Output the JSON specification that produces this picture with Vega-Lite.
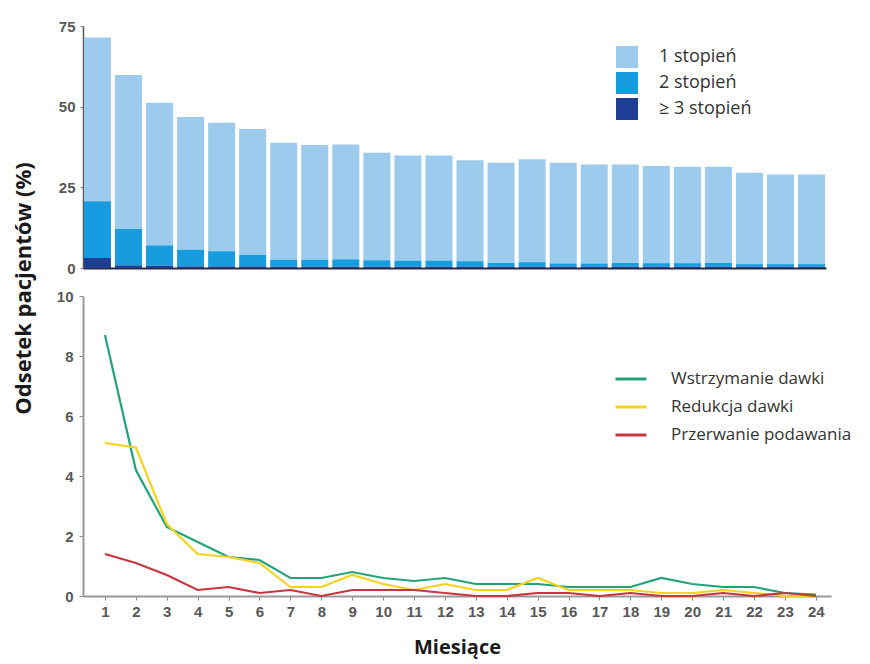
{
  "$schema": "https://vega.github.io/schema/vega-lite/v6.json",
  "padding": {"left": 12, "top": 19, "right": 5, "bottom": 5},
  "background": "white",
  "bounds": "flush",
  "resolve": {"scale": {"color": "independent"}, "legend": {"color": "independent"}},
  "config": {
    "view": {"stroke": null},
    "axis": {"labelFont": "Liberation Sans", "labelFontSize": 15, "labelFontWeight": "bold", "labelColor": "#585858", "grid": false, "tickColor": "#888888", "domainColor": "#888888"},
    "legend": {"labelFont": "Open Sans", "labelColor": "#333333"}
  },
  "datasets": {
    "bars": [
      {"month": 1, "grade": "1 stopień", "value": 50.7}, {"month": 1, "grade": "2 stopień", "value": 17.6}, {"month": 1, "grade": "≥ 3 stopień", "value": 3.1},
      {"month": 2, "grade": "1 stopień", "value": 47.7}, {"month": 2, "grade": "2 stopień", "value": 11.3}, {"month": 2, "grade": "≥ 3 stopień", "value": 0.8},
      {"month": 3, "grade": "1 stopień", "value": 44.2}, {"month": 3, "grade": "2 stopień", "value": 6.3}, {"month": 3, "grade": "≥ 3 stopień", "value": 0.7},
      {"month": 4, "grade": "1 stopień", "value": 41.1}, {"month": 4, "grade": "2 stopień", "value": 5.2}, {"month": 4, "grade": "≥ 3 stopień", "value": 0.5},
      {"month": 5, "grade": "1 stopień", "value": 39.8}, {"month": 5, "grade": "2 stopień", "value": 4.7}, {"month": 5, "grade": "≥ 3 stopień", "value": 0.5},
      {"month": 6, "grade": "1 stopień", "value": 39.0}, {"month": 6, "grade": "2 stopień", "value": 3.6}, {"month": 6, "grade": "≥ 3 stopień", "value": 0.5},
      {"month": 7, "grade": "1 stopień", "value": 36.2}, {"month": 7, "grade": "2 stopień", "value": 2.2}, {"month": 7, "grade": "≥ 3 stopień", "value": 0.4},
      {"month": 8, "grade": "1 stopień", "value": 35.5}, {"month": 8, "grade": "2 stopień", "value": 2.2}, {"month": 8, "grade": "≥ 3 stopień", "value": 0.4},
      {"month": 9, "grade": "1 stopień", "value": 35.6}, {"month": 9, "grade": "2 stopień", "value": 2.3}, {"month": 9, "grade": "≥ 3 stopień", "value": 0.4},
      {"month": 10, "grade": "1 stopień", "value": 33.3}, {"month": 10, "grade": "2 stopień", "value": 2.0}, {"month": 10, "grade": "≥ 3 stopień", "value": 0.4},
      {"month": 11, "grade": "1 stopień", "value": 32.6}, {"month": 11, "grade": "2 stopień", "value": 1.9}, {"month": 11, "grade": "≥ 3 stopień", "value": 0.4},
      {"month": 12, "grade": "1 stopień", "value": 32.6}, {"month": 12, "grade": "2 stopień", "value": 1.9}, {"month": 12, "grade": "≥ 3 stopień", "value": 0.4},
      {"month": 13, "grade": "1 stopień", "value": 31.3}, {"month": 13, "grade": "2 stopień", "value": 1.7}, {"month": 13, "grade": "≥ 3 stopień", "value": 0.4},
      {"month": 14, "grade": "1 stopień", "value": 31.0}, {"month": 14, "grade": "2 stopień", "value": 1.2}, {"month": 14, "grade": "≥ 3 stopień", "value": 0.4},
      {"month": 15, "grade": "1 stopień", "value": 31.9}, {"month": 15, "grade": "2 stopień", "value": 1.4}, {"month": 15, "grade": "≥ 3 stopień", "value": 0.4},
      {"month": 16, "grade": "1 stopień", "value": 31.2}, {"month": 16, "grade": "2 stopień", "value": 1.0}, {"month": 16, "grade": "≥ 3 stopień", "value": 0.4},
      {"month": 17, "grade": "1 stopień", "value": 30.7}, {"month": 17, "grade": "2 stopień", "value": 1.0}, {"month": 17, "grade": "≥ 3 stopień", "value": 0.4},
      {"month": 18, "grade": "1 stopień", "value": 30.5}, {"month": 18, "grade": "2 stopień", "value": 1.2}, {"month": 18, "grade": "≥ 3 stopień", "value": 0.4},
      {"month": 19, "grade": "1 stopień", "value": 30.1}, {"month": 19, "grade": "2 stopień", "value": 1.1}, {"month": 19, "grade": "≥ 3 stopień", "value": 0.4},
      {"month": 20, "grade": "1 stopień", "value": 29.9}, {"month": 20, "grade": "2 stopień", "value": 1.1}, {"month": 20, "grade": "≥ 3 stopień", "value": 0.4},
      {"month": 21, "grade": "1 stopień", "value": 29.8}, {"month": 21, "grade": "2 stopień", "value": 1.2}, {"month": 21, "grade": "≥ 3 stopień", "value": 0.4},
      {"month": 22, "grade": "1 stopień", "value": 28.3}, {"month": 22, "grade": "2 stopień", "value": 0.8}, {"month": 22, "grade": "≥ 3 stopień", "value": 0.4},
      {"month": 23, "grade": "1 stopień", "value": 27.8}, {"month": 23, "grade": "2 stopień", "value": 0.8}, {"month": 23, "grade": "≥ 3 stopień", "value": 0.4},
      {"month": 24, "grade": "1 stopień", "value": 27.8}, {"month": 24, "grade": "2 stopień", "value": 0.8}, {"month": 24, "grade": "≥ 3 stopień", "value": 0.4}
    ],
    "lines": [
      {"month": 1, "series": "Wstrzymanie dawki", "value": 8.7}, {"month": 2, "series": "Wstrzymanie dawki", "value": 4.2}, {"month": 3, "series": "Wstrzymanie dawki", "value": 2.3}, {"month": 4, "series": "Wstrzymanie dawki", "value": 1.8}, {"month": 5, "series": "Wstrzymanie dawki", "value": 1.3}, {"month": 6, "series": "Wstrzymanie dawki", "value": 1.2}, {"month": 7, "series": "Wstrzymanie dawki", "value": 0.6}, {"month": 8, "series": "Wstrzymanie dawki", "value": 0.6}, {"month": 9, "series": "Wstrzymanie dawki", "value": 0.8}, {"month": 10, "series": "Wstrzymanie dawki", "value": 0.6}, {"month": 11, "series": "Wstrzymanie dawki", "value": 0.5}, {"month": 12, "series": "Wstrzymanie dawki", "value": 0.6}, {"month": 13, "series": "Wstrzymanie dawki", "value": 0.4}, {"month": 14, "series": "Wstrzymanie dawki", "value": 0.4}, {"month": 15, "series": "Wstrzymanie dawki", "value": 0.4}, {"month": 16, "series": "Wstrzymanie dawki", "value": 0.3}, {"month": 17, "series": "Wstrzymanie dawki", "value": 0.3}, {"month": 18, "series": "Wstrzymanie dawki", "value": 0.3}, {"month": 19, "series": "Wstrzymanie dawki", "value": 0.6}, {"month": 20, "series": "Wstrzymanie dawki", "value": 0.4}, {"month": 21, "series": "Wstrzymanie dawki", "value": 0.3}, {"month": 22, "series": "Wstrzymanie dawki", "value": 0.3}, {"month": 23, "series": "Wstrzymanie dawki", "value": 0.1}, {"month": 24, "series": "Wstrzymanie dawki", "value": 0.05},
      {"month": 1, "series": "Redukcja dawki", "value": 5.1}, {"month": 2, "series": "Redukcja dawki", "value": 4.95}, {"month": 3, "series": "Redukcja dawki", "value": 2.4}, {"month": 4, "series": "Redukcja dawki", "value": 1.4}, {"month": 5, "series": "Redukcja dawki", "value": 1.3}, {"month": 6, "series": "Redukcja dawki", "value": 1.1}, {"month": 7, "series": "Redukcja dawki", "value": 0.3}, {"month": 8, "series": "Redukcja dawki", "value": 0.3}, {"month": 9, "series": "Redukcja dawki", "value": 0.7}, {"month": 10, "series": "Redukcja dawki", "value": 0.4}, {"month": 11, "series": "Redukcja dawki", "value": 0.2}, {"month": 12, "series": "Redukcja dawki", "value": 0.4}, {"month": 13, "series": "Redukcja dawki", "value": 0.2}, {"month": 14, "series": "Redukcja dawki", "value": 0.2}, {"month": 15, "series": "Redukcja dawki", "value": 0.6}, {"month": 16, "series": "Redukcja dawki", "value": 0.2}, {"month": 17, "series": "Redukcja dawki", "value": 0.2}, {"month": 18, "series": "Redukcja dawki", "value": 0.2}, {"month": 19, "series": "Redukcja dawki", "value": 0.1}, {"month": 20, "series": "Redukcja dawki", "value": 0.1}, {"month": 21, "series": "Redukcja dawki", "value": 0.2}, {"month": 22, "series": "Redukcja dawki", "value": 0.1}, {"month": 23, "series": "Redukcja dawki", "value": 0.0}, {"month": 24, "series": "Redukcja dawki", "value": 0.0},
      {"month": 1, "series": "Przerwanie podawania", "value": 1.4}, {"month": 2, "series": "Przerwanie podawania", "value": 1.1}, {"month": 3, "series": "Przerwanie podawania", "value": 0.7}, {"month": 4, "series": "Przerwanie podawania", "value": 0.2}, {"month": 5, "series": "Przerwanie podawania", "value": 0.3}, {"month": 6, "series": "Przerwanie podawania", "value": 0.1}, {"month": 7, "series": "Przerwanie podawania", "value": 0.2}, {"month": 8, "series": "Przerwanie podawania", "value": 0.0}, {"month": 9, "series": "Przerwanie podawania", "value": 0.2}, {"month": 10, "series": "Przerwanie podawania", "value": 0.2}, {"month": 11, "series": "Przerwanie podawania", "value": 0.2}, {"month": 12, "series": "Przerwanie podawania", "value": 0.1}, {"month": 13, "series": "Przerwanie podawania", "value": 0.0}, {"month": 14, "series": "Przerwanie podawania", "value": 0.0}, {"month": 15, "series": "Przerwanie podawania", "value": 0.1}, {"month": 16, "series": "Przerwanie podawania", "value": 0.1}, {"month": 17, "series": "Przerwanie podawania", "value": 0.0}, {"month": 18, "series": "Przerwanie podawania", "value": 0.1}, {"month": 19, "series": "Przerwanie podawania", "value": 0.0}, {"month": 20, "series": "Przerwanie podawania", "value": 0.0}, {"month": 21, "series": "Przerwanie podawania", "value": 0.1}, {"month": 22, "series": "Przerwanie podawania", "value": 0.0}, {"month": 23, "series": "Przerwanie podawania", "value": 0.1}, {"month": 24, "series": "Przerwanie podawania", "value": 0.0}
    ]
  },
  "vconcat": [
    {
      "width": 743,
      "height": 242,
      "data": {"name": "bars"},
      "mark": {"type": "bar"},
      "encoding": {
        "x": {"field": "month", "type": "ordinal", "scale": {"paddingInner": 0.13, "paddingOuter": 0.03},
              "axis": {"labels": false, "ticks": false, "title": null, "domainColor": "#2b2b40", "domainWidth": 2}},
        "y": {"field": "value", "type": "quantitative", "aggregate": "sum",
              "scale": {"domain": [0, 75]},
              "axis": {"values": [0, 25, 50, 75], "tickSize": 3, "labelPadding": 5, "domainColor": "#555555", "domainWidth": 1.5,
                       "title": "Odsetek pacjentów (%)", "titleFont": "Open Sans", "titleFontSize": 22, "titleFontWeight": "bold", "titleColor": "#1a1a1a",
                       "titleX": -60, "titleY": 262, "titleBaseline": "middle", "titleAngle": -90}},
        "color": {"field": "grade", "type": "nominal",
                  "scale": {"domain": ["1 stopień", "2 stopień", "≥ 3 stopień"], "range": ["#9ccbee", "#179ddf", "#1e3e96"]},
                  "legend": {"title": null, "orient": "none", "legendX": 533, "legendY": 20, "symbolType": "square", "symbolSize": 484,
                             "symbolStrokeWidth": 0, "labelFontSize": 18, "labelOffset": 21, "rowPadding": 4, "padding": 0}},
        "order": {"field": "grade", "sort": "descending"}
      }
    },
    {
      "width": 748,
      "height": 300,
      "data": {"name": "lines"},
      "mark": {"type": "line", "strokeWidth": 2.2},
      "encoding": {
        "x": {"field": "month", "type": "quantitative", "scale": {"domain": [0.29, 24.49], "nice": false, "zero": false},
              "axis": {"values": [1,2,3,4,5,6,7,8,9,10,11,12,13,14,15,16,17,18,19,20,21,22,23,24], "format": "d", "tickSize": 4, "labelPadding": 4,
                       "domainColor": "#999999", "domainWidth": 2,
                       "title": "Miesiące", "titleFont": "Open Sans", "titleFontSize": 20, "titleFontWeight": "bold", "titleColor": "#1a1a1a", "titlePadding": 18}},
        "y": {"field": "value", "type": "quantitative", "scale": {"domain": [0, 10], "nice": false},
              "axis": {"values": [0, 2, 4, 6, 8, 10], "tickSize": 4, "labelPadding": 6, "domainColor": "#999999", "domainWidth": 2, "title": null}},
        "color": {"field": "series", "type": "nominal",
                  "scale": {"domain": ["Wstrzymanie dawki", "Redukcja dawki", "Przerwanie podawania"], "range": ["#22a37c", "#f5d31c", "#c8353f"]},
                  "legend": {"title": null, "orient": "none", "legendX": 531, "legendY": 66, "symbolType": "stroke", "symbolSize": 961,
                             "symbolStrokeWidth": 3, "labelFontSize": 17, "labelOffset": 23, "rowPadding": 3, "padding": 0, "labelLimit": 300}}
      }
    }
  ],
  "spacing": 28
}
